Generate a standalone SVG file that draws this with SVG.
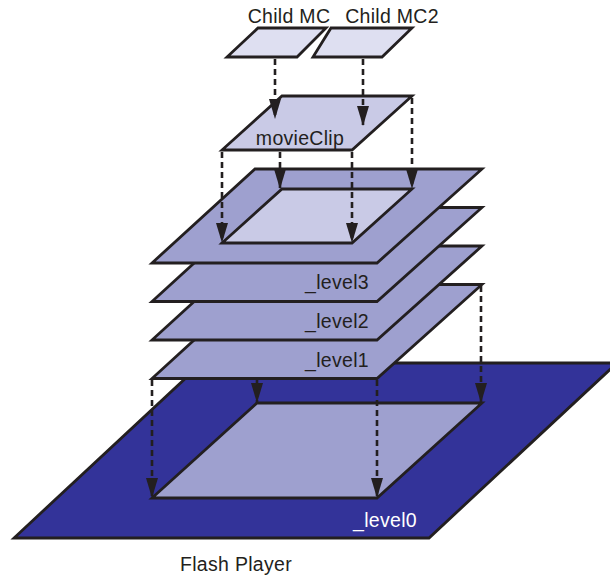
<svg xmlns="http://www.w3.org/2000/svg" width="610" height="578" viewBox="0 0 610 578">
<style>
.ol{stroke:#231f20;stroke-width:2.8;stroke-linejoin:miter}
.plate{fill:#9ea0cf}
.dark{fill:#333399}
.mc{fill:#c9cae6}
.child{fill:#dedff1}
.t{font-family:"Liberation Sans",Arial,sans-serif;font-size:19.5px;fill:#231f20;letter-spacing:0.3px}
.w{fill:#ffffff}
.dash{stroke:#231f20;stroke-width:2.6;stroke-dasharray:6,4;fill:none}
</style>
<defs>
<marker id="ah" markerUnits="userSpaceOnUse" viewBox="0 0 20 12" refX="20" refY="6" markerWidth="20" markerHeight="12" orient="auto">
<path d="M0,0 L20,6 L0,12 z" fill="#231f20"/>
</marker>
</defs>
<rect width="610" height="578" fill="#ffffff"/>
<g id="level0">
<polygon class="ol dark" points="202,363 617,363 429,538 14,538"/>
<polygon class="ol plate" points="257,403 482,403 377,498 152,498"/>
<text class="t w" x="417" y="527" text-anchor="end">_level0</text>
</g>
<g id="level1">
<polygon class="ol plate" points="255,284.5 482,284.5 377,378.5 152,378.5"/>
<text class="t" x="369" y="367" text-anchor="end">_level1</text>
</g>
<g id="level2">
<polygon class="ol plate" points="255,246 482,246 377,340 152,340"/>
<text class="t" x="369" y="328" text-anchor="end">_level2</text>
</g>
<g id="level3">
<polygon class="ol plate" points="255,207.5 482,207.5 377,301.5 152,301.5"/>
<text class="t" x="369" y="289" text-anchor="end">_level3</text>
</g>
<g id="topplate">
<polygon class="ol plate" points="255,169 482,169 377,263 152,263"/>
<polygon class="ol mc" points="282,189 412,189 352,243 222,243"/>
</g>
<g id="movieClip">
<polygon class="ol mc" points="282,96 412,96 352,150 222,150"/>
<text class="t" x="300" y="145" text-anchor="middle">movieClip</text>
</g>
<g id="childMC">
<polygon class="ol child" points="258,28 326,28 297,57 227,57"/>
<text class="t" x="289" y="23" text-anchor="middle">Child MC</text>
</g>
<g id="childMC2">
<polygon class="ol child" points="331,28 412,28 382,57 313,57"/>
<text class="t" x="392" y="23" text-anchor="middle">Child MC2</text>
</g>
<g id="connectors">
<line class="dash" x1="275" y1="59" x2="275" y2="119" marker-end="url(#ah)"/>
<line class="dash" x1="363" y1="59" x2="363" y2="126" marker-end="url(#ah)"/>
<line class="dash" x1="222" y1="152" x2="222" y2="243" marker-end="url(#ah)"/>
<line class="dash" x1="280" y1="152" x2="280" y2="189" marker-end="url(#ah)"/>
<line class="dash" x1="352" y1="152" x2="352" y2="243" marker-end="url(#ah)"/>
<line class="dash" x1="412" y1="98" x2="412" y2="189" marker-end="url(#ah)"/>
<line class="dash" x1="152" y1="380" x2="152" y2="498" marker-end="url(#ah)"/>
<line class="dash" x1="257" y1="380" x2="257" y2="403" marker-end="url(#ah)"/>
<line class="dash" x1="377" y1="380" x2="377" y2="498" marker-end="url(#ah)"/>
<line class="dash" x1="481" y1="286" x2="481" y2="403" marker-end="url(#ah)"/>
</g>
<text class="t" x="236" y="571" text-anchor="middle">Flash Player</text>
</svg>
